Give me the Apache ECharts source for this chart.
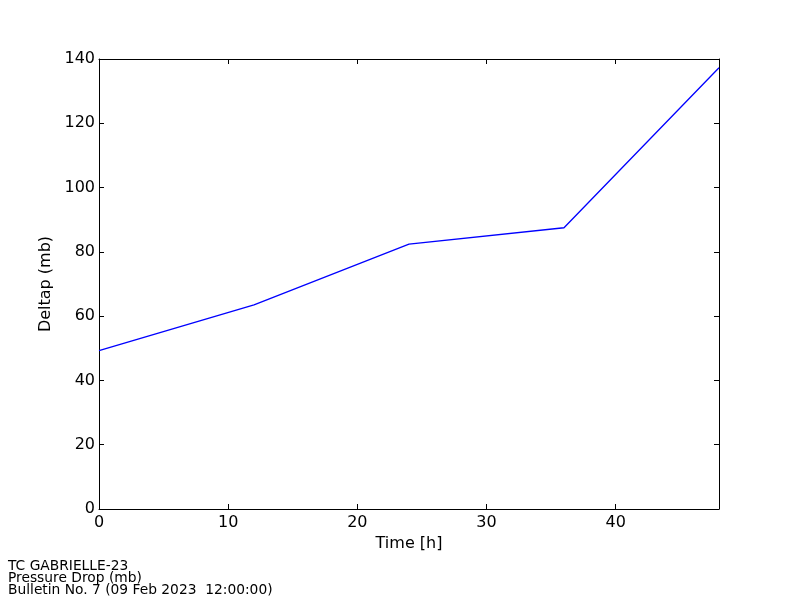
<!DOCTYPE html>
<html>
<head>
<meta charset="utf-8">
<script src="https://cdn.jsdelivr.net/npm/echarts@6/dist/echarts.min.js"></script>
<style>html,body{margin:0;padding:0;background:#fff}#c{width:800px;height:600px}</style>
</head>
<body>
<div id="c"></div>
<script>
const hours = [0, 12, 24, 36, 48];
const deltap = [49.3, 63.5, 82.4, 87.5, 137.3];
const xTicks = [0, 10, 20, 30, 40];
const yTicks = [0, 20, 40, 60, 80, 100, 120, 140];
const footerLines = ['TC GABRIELLE-23', 'Pressure Drop (mb)', 'Bulletin No. 7 (09 Feb 2023  12:00:00)'];

const font = 'DejaVu Sans';
const chart = echarts.init(document.getElementById('c'), null, {renderer: 'canvas'});
const axisLine = {show: true, onZero: false, lineStyle: {color: '#000', width: 1}};
const tick = {show: true, inside: true, length: 5, lineStyle: {color: '#000', width: 1}};
chart.setOption({
  animation: false,
  backgroundColor: '#fff',
  grid: {left: 99, right: 81, top: 59, bottom: 91, containLabel: false},
  xAxis: [{
    type: 'value', min: 0, max: 48, interval: 10, position: 'bottom',
    name: 'Time [h]', nameLocation: 'middle', nameGap: 26,
    nameTextStyle: {fontFamily: font, fontSize: 16, color: '#000'},
    axisLine: axisLine, axisTick: tick, splitLine: {show: false},
    axisLabel: {fontFamily: font, fontSize: 16, color: '#000', margin: 6, showMaxLabel: false,
      formatter: v => xTicks.includes(v) ? String(v) : ''}
  }, {
    type: 'value', min: 0, max: 48, interval: 10, position: 'top',
    axisLine: axisLine, axisTick: tick, splitLine: {show: false}, axisLabel: {show: false}
  }],
  yAxis: [{
    type: 'value', min: 0, max: 140, interval: 20, position: 'left',
    name: 'Deltap (mb)', nameLocation: 'middle', nameGap: 37,
    nameTextStyle: {fontFamily: font, fontSize: 16, color: '#000'},
    axisLine: axisLine, axisTick: tick, splitLine: {show: false},
    axisLabel: {fontFamily: font, fontSize: 16, color: '#000', margin: 4,
      formatter: v => yTicks.includes(v) ? String(v) : ''}
  }, {
    type: 'value', min: 0, max: 140, interval: 20, position: 'right',
    axisLine: axisLine, axisTick: tick, splitLine: {show: false}, axisLabel: {show: false}
  }],
  series: [{
    type: 'line', xAxisIndex: 0, yAxisIndex: 0,
    data: hours.map((h, i) => [h, deltap[i]]),
    showSymbol: false, symbol: 'none',
    lineStyle: {color: '#0000ff', width: 1.3},
    clip: false
  }],
  graphic: footerLines.map((t, i) => ({
    type: 'text', left: 8, top: 559 + i * 12,
    style: {text: t, fontFamily: font, fontSize: 13.8, fill: '#000'}
  }))
});
</script>
</body>
</html>
